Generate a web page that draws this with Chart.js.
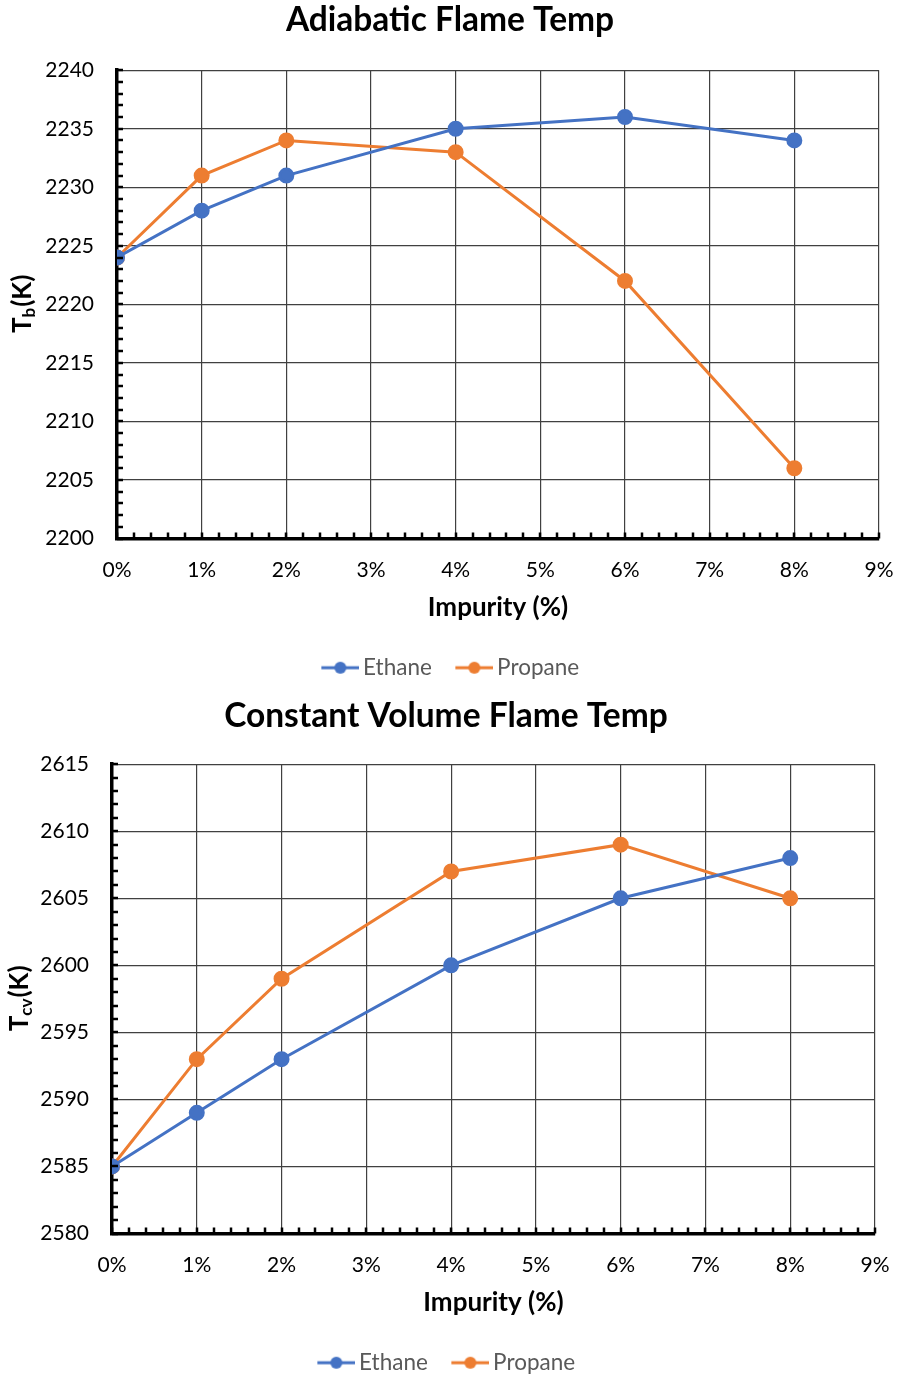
<!DOCTYPE html>
<html>
<head>
<meta charset="utf-8">
<script src="https://cdn.jsdelivr.net/npm/chart.js@4.4.1/dist/chart.umd.min.js"></script>
<style>
  html, body { margin: 0; background: #fff; overflow: hidden; }
  .box { position: relative; width: 897px; }
</style>
</head>
<body>
<div class="box" style="height:689px"><canvas id="chartTb"></canvas></div>
<div class="box" style="height:695px"><canvas id="chartTcv"></canvas></div>
<script>
// impurity levels (%)
var impurity = [0, 1, 2, 4, 6, 8];

// adiabatic flame temp (K)
var tbEthane = [2224, 2228, 2231, 2235, 2236, 2234];
var tbPropane = [2224, 2231, 2234, 2233, 2222, 2206];

// constant volume flame temp (K)
var tcvEthane = [2585, 2589, 2593, 2600, 2605, 2608];
var tcvPropane = [2585, 2593, 2599, 2607, 2609, 2605];

var BLUE = '#4472C4';
var ORANGE = '#ED7D31';
var FONT = 'Lato, "Liberation Sans", sans-serif';

function pts(ys) {
  return impurity.map(function (x, i) { return { x: x, y: ys[i] }; });
}

// line+dot marker for the legend, shifted so the text sits close to it
function legendMark(color) {
  var c = document.createElement('canvas');
  c.width = 46; c.height = 14;
  var g = c.getContext('2d');
  g.strokeStyle = color; g.lineWidth = 3;
  g.beginPath(); g.moveTo(8, 7); g.lineTo(46, 7); g.stroke();
  g.fillStyle = color;
  g.beginPath(); g.arc(27, 7, 6, 0, Math.PI * 2); g.fill();
  return c;
}

// minor tick marks drawn inwards from the axes + rotated y title with subscript
function axisExtras(mainSym, subSym, titleX) {
  return {
    id: 'axisExtras',
    afterDraw: function (chart) {
      var ctx = chart.ctx, xs = chart.scales.x, ys = chart.scales.y;
      var a = chart.chartArea;
      ctx.save();
      ctx.strokeStyle = '#000';
      ctx.lineWidth = 2.5;
      ctx.beginPath();
      for (var v = ys.min; v <= ys.max + 1e-6; v += 1) {
        var py = Math.round(ys.getPixelForValue(v));
        ctx.moveTo(a.left, py); ctx.lineTo(a.left + 6, py);
      }
      for (var k = 0; k <= 45; k++) {
        var px = Math.round(xs.getPixelForValue(k * 0.2));
        ctx.moveTo(px, a.bottom); ctx.lineTo(px, a.bottom - 6);
      }
      ctx.stroke();

      // y title
      ctx.translate(titleX, (a.top + a.bottom) / 2);
      ctx.rotate(-Math.PI / 2);
      ctx.fillStyle = '#000';
      ctx.textBaseline = 'middle';
      var big = 'bold 26px ' + FONT, small = 'bold 17px ' + FONT;
      ctx.font = big; var w1 = ctx.measureText(mainSym).width;
      ctx.font = small; var w2 = ctx.measureText(subSym).width;
      ctx.font = big; var w3 = ctx.measureText('(K)').width;
      var x0 = -(w1 + w2 + w3) / 2;
      ctx.textAlign = 'left';
      ctx.font = big; ctx.fillText(mainSym, x0, 0);
      ctx.font = small; ctx.fillText(subSym, x0 + w1, 7);
      ctx.font = big; ctx.fillText('(K)', x0 + w1 + w2 + 1, 0);
      ctx.restore();
    }
  };
}

function makeChart(id, title, ethane, propane, yMin, yMax, o) {
  return new Chart(document.getElementById(id), {
    type: 'line',
    data: {
      datasets: [
        {
          label: 'Ethane',
          data: pts(ethane),
          borderColor: BLUE,
          backgroundColor: BLUE,
          borderWidth: 3,
          pointRadius: 6.5,
          pointHoverRadius: 6.5,
          pointStyle: 'circle'
        },
        {
          label: 'Propane',
          data: pts(propane),
          borderColor: ORANGE,
          backgroundColor: ORANGE,
          borderWidth: 3,
          pointRadius: 6.5,
          pointHoverRadius: 6.5,
          pointStyle: 'circle'
        }
      ]
    },
    options: {
      animation: false,
      responsive: true,
      maintainAspectRatio: false,
      layout: { padding: { left: o.left, right: o.right, top: 0, bottom: 0 } },
      plugins: {
        title: {
          display: true,
          text: title,
          color: '#000',
          font: { family: FONT, size: 33.5, weight: 'bold' },
          padding: { top: o.titleTop, bottom: o.titleBottom }
        },
        legend: {
          position: 'bottom',
          labels: {
            color: '#595959',
            font: { family: FONT, size: 22.5 },
            usePointStyle: true,
            pointStyleWidth: 31,
            padding: 23,
            generateLabels: function (chart) {
              return chart.data.datasets.map(function (ds, i) {
                return {
                  text: ds.label,
                  pointStyle: legendMark(ds.borderColor),
                  fontColor: '#595959',
                  lineWidth: 0,
                  datasetIndex: i
                };
              });
            }
          }
        },
        tooltip: { enabled: false }
      },
      scales: {
        x: {
          type: 'linear',
          min: 0,
          max: 9,
          ticks: {
            stepSize: 1,
            color: '#000',
            padding: 19,
            font: { family: FONT, size: 21 },
            callback: function (v) { return v + '%'; }
          },
          grid: { color: '#404040', lineWidth: 1.2, drawTicks: false },
          border: { color: '#000', width: 3.5 },
          title: {
            display: true,
            text: 'Impurity (%)',
            color: '#000',
            font: { family: FONT, size: 26, weight: 'bold' },
            padding: { top: 4, bottom: 10.5 }
          },
          afterFit: function (s) {
            s.height = 95;
            s.paddingLeft = 0;
            s.paddingRight = 0;
          }
        },
        y: {
          min: yMin,
          max: yMax,
          ticks: {
            stepSize: 5,
            color: '#000',
            padding: 23,
            font: { family: FONT, size: 21 },
            callback: function (v) { return String(v); }
          },
          grid: { color: '#404040', lineWidth: 1.2, drawTicks: false },
          border: { color: '#000', width: 3.5 },
          afterFit: function (s) { s.width = o.yWidth; }
        }
      }
    },
    plugins: [axisExtras('T', o.sub, o.titleX)]
  });
}

makeChart('chartTb', 'Adiabatic Flame Temp', tbEthane, tbPropane, 2200, 2240,
  { left: 21, right: 18, titleTop: 0, titleBottom: 30, yWidth: 96, sub: 'b', titleX: 23 });

makeChart('chartTcv', 'Constant Volume Flame Temp', tcvEthane, tcvPropane, 2580, 2615,
  { left: 17, right: 22, titleTop: 7, titleBottom: 28, yWidth: 95, sub: 'cv', titleX: 20 });
</script>
</body>
</html>
